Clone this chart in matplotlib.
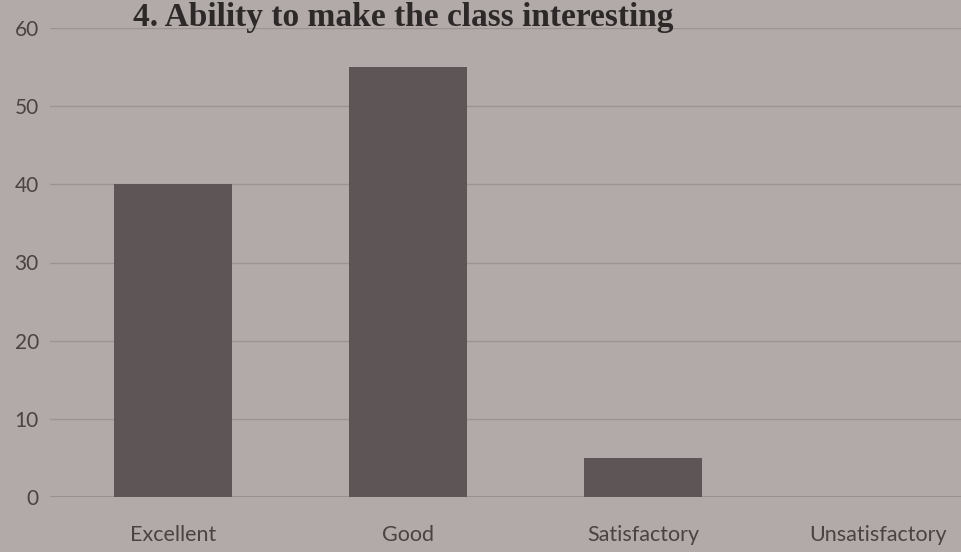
import matplotlib.pyplot as plt

categories = ["Excellent", "Good", "Satisfactory", "Unsatisfactory"]
values = [40, 55, 5, 0]
y_ticks = [0, 10, 20, 30, 40, 50, 60]
title = "4. Ability to make the class interesting"

bg = "#b2aaa9"
bar_color = "#5e5656"
text_color = "#4a4343"

fig = plt.figure(figsize=(9.61, 5.52), dpi=100, facecolor=bg)
ax = fig.add_axes([50 / 961, 55 / 552, 1 - 50 / 961, 469 / 552])
ax.set_facecolor(bg)

x = range(len(categories))
ax.bar(x, values, width=0.5, color=bar_color, zorder=3)

ax.set_xlim(-0.523, 3.353)
ax.set_ylim(0, 60)
ax.set_yticks(y_ticks)
ax.set_xticks(list(x))
ax.set_xticklabels(categories)

ax.grid(axis="y", color="#9c9493", linewidth=1.0, zorder=0)
ax.axhline(0, color="#948c8b", linewidth=1.2, zorder=2)
for s in ax.spines.values():
    s.set_visible(False)
ax.tick_params(length=0, colors=text_color)
ax.tick_params(axis="x", pad=20, labelsize=15.5)
ax.tick_params(axis="y", pad=8, labelsize=15)
for lab in ax.get_xticklabels() + ax.get_yticklabels():
    lab.set_family("Lato")

# title sits right at the top edge, over the 60 gridline
fig.text(403 / 961, 1 - 26 / 552, title, ha="center", va="baseline",
         family="Liberation Serif", fontweight="bold", fontsize=24,
         color="#2e2929")

fig.savefig("out.png", dpi=100, facecolor=bg)
